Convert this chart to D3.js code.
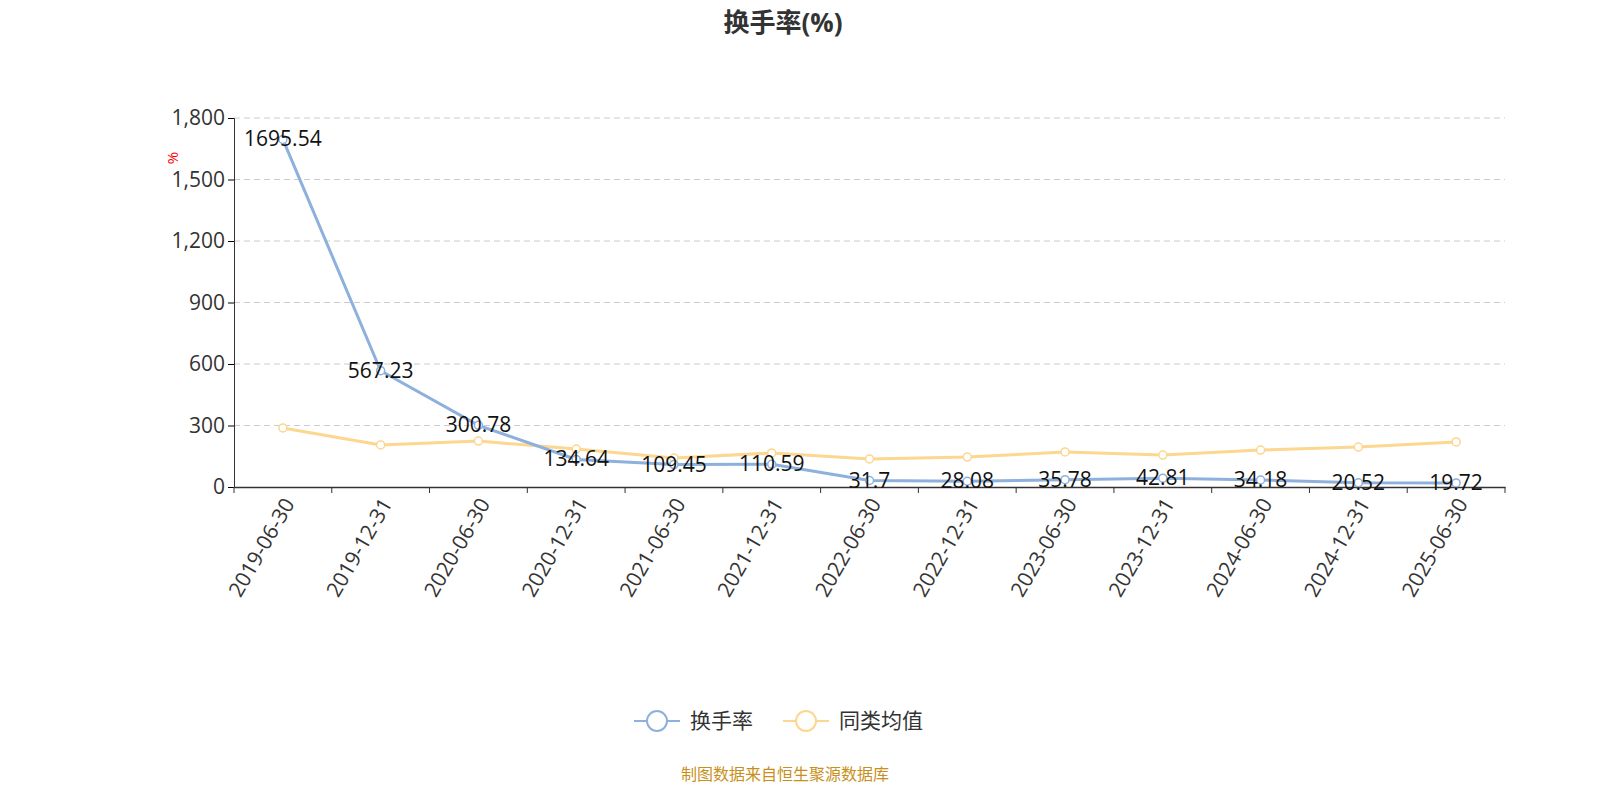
<!DOCTYPE html>
<html><head><meta charset="utf-8">
<script src="https://cdn.jsdelivr.net/npm/d3@7"></script>
<style>html,body{margin:0;padding:0;overflow:hidden;background:#fff;font-family:"Open Sans","Noto Sans CJK SC",sans-serif;}svg{display:block;}</style>
</head><body><svg id="chart" width="1600" height="800"></svg>
<script>
var dates = ["2019-06-30","2019-12-31","2020-06-30","2020-12-31","2021-06-30","2021-12-31","2022-06-30","2022-12-31","2023-06-30","2023-12-31","2024-06-30","2024-12-31","2025-06-30"];
var turnover = [1695.54,567.23,300.78,134.64,109.45,110.59,31.7,28.08,35.78,42.81,34.18,20.52,19.72];
var peerAvg = [288,205,224,185,141,166,137,146,171,156,180,195,220];
var yTicks = [0,300,600,900,1200,1500,1800];

var svg = d3.select("#chart");
var x = d3.scaleBand().domain(dates).range([234,1505]);
var y = d3.scaleLinear().domain([0,1800]).range([487,118]);
var cx = function(d,i){ return x(dates[i]) + x.bandwidth()/2; };

svg.append("text").attr("x",783).attr("y",32).attr("text-anchor","middle")
   .style("font-size","26px").style("font-weight","bold").attr("fill","#333").text("换手率(%)");

// grid
svg.selectAll(".grid").data(yTicks.slice(1)).enter().append("line")
   .attr("x1",234).attr("x2",1505).attr("y1",y).attr("y2",y)
   .attr("stroke","#ccc").attr("stroke-dasharray","6,4");

var yAxis = svg.append("g").attr("transform","translate(234,0)")
   .call(d3.axisLeft(y).tickValues(yTicks).tickFormat(d3.format(",")).tickSize(6));
yAxis.select(".domain").attr("stroke","#333");
yAxis.selectAll("text").style("font-size","21px").attr("fill","#333").attr("font-family","Open Sans");

var xAxis = svg.append("g").attr("transform","translate(0,487)")
   .call(d3.axisBottom(x).tickSize(0).tickFormat(""));
xAxis.select(".domain").attr("stroke","#333").attr("stroke-width",1.5);
svg.selectAll(".xt").data(d3.range(dates.length+1)).enter().append("line")
   .attr("x1",function(i){return 234+i*x.bandwidth();}).attr("x2",function(i){return 234+i*x.bandwidth();})
   .attr("y1",487).attr("y2",493).attr("stroke","#333");
svg.selectAll(".xl").data(dates).enter().append("text")
   .attr("transform",function(d){return "translate("+(x(d)+x.bandwidth()/2+6)+",500) rotate(-60)";})
   .attr("text-anchor","end").attr("dy","0.35em").style("font-size","21px").attr("fill","#333").text(function(d){return d;});

svg.append("text").attr("transform","translate(178,158) rotate(-90)").attr("text-anchor","middle")
   .style("font-size","15px").attr("fill","red").text("%");

function drawSeries(vals,color){
  svg.append("path").datum(vals)
     .attr("d",d3.line().x(cx).y(function(d){return y(d);}))
     .attr("fill","none").attr("stroke",color).attr("stroke-width",3);
  svg.selectAll(null).data(vals).enter().append("circle")
     .attr("cx",cx).attr("cy",function(d){return y(d);}).attr("r",4)
     .attr("fill","#fff").attr("stroke",color).attr("stroke-width",1.5);
}
drawSeries(peerAvg,"#fdd68f");
drawSeries(turnover,"#8eb0dc");

svg.selectAll(".lbl").data(turnover).enter().append("text")
   .attr("x",cx).attr("y",function(d){return y(d)+7;}).attr("text-anchor","middle")
   .style("font-size","21px").attr("fill","#111").text(function(d){return d;});

// legend
var legend = [["换手率","#8eb0dc",634],["同类均值","#fdd68f",783]];
legend.forEach(function(l){
  var g = svg.append("g").attr("transform","translate("+l[2]+",721)");
  g.append("line").attr("x1",0).attr("x2",46).attr("stroke",l[1]).attr("stroke-width",2);
  g.append("circle").attr("cx",23).attr("r",10).attr("fill","#fff").attr("stroke",l[1]).attr("stroke-width",2);
  g.append("text").attr("x",56).attr("dy","0.35em").style("font-size","21px").attr("fill","#333").text(l[0]);
});

svg.append("text").attr("x",785).attr("y",780).attr("text-anchor","middle")
   .style("font-size","16px").attr("fill","#c8901a").text("制图数据来自恒生聚源数据库");
</script></body></html>
